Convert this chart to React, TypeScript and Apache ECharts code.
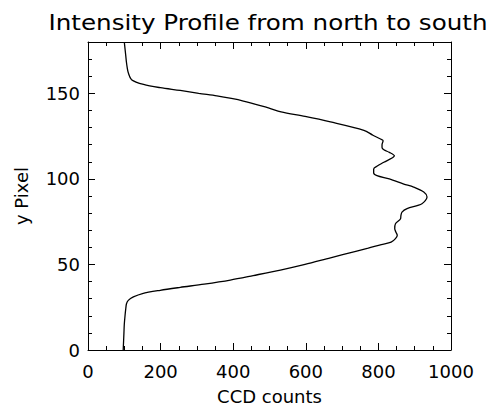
import React, { useEffect, useRef } from "react";
import * as echarts from "echarts";

const TITLE = "Intensity Profile from north to south";
const X_NAME = "CCD counts";
const Y_NAME = "y Pixel";

const yPixel = [0, 5, 10, 15, 20, 24, 27, 29, 31, 33, 34.9, 36.6, 38.5, 40.9, 43.5, 46.7, 50, 53.9, 57.5, 59.5, 61.6, 63, 65.1, 67, 69, 70.9, 73.8, 76.7, 78.5, 80.6, 82.6, 85.5, 89.4, 92.3, 95.2, 97, 100, 101.9, 103.5, 105.8, 107.5, 109.7, 113.5, 115.5, 117, 118.4, 120, 122.3, 123.3, 125.5, 128.4, 133.3, 136.5, 139.1, 141.5, 143.5, 145.5, 147, 148.5, 150, 151.7, 153.3, 155.2, 158, 162, 165, 168, 172, 176, 180];
const ccdCounts = [97, 98, 99, 100, 102, 104, 106, 111, 125, 150, 199, 254, 320, 392, 455, 530, 598, 668, 735, 772, 808, 835, 847, 852, 848, 845, 847, 861, 862, 865, 879, 920, 934, 925, 897, 870, 830, 796, 787, 787, 797, 815, 844, 830, 815, 810, 810, 813, 806, 785, 760, 668, 598, 532, 497, 462, 428, 395, 355, 305, 254, 199, 153, 120, 111, 108, 106, 104, 102, 100];

const FONT = "DejaVu Sans";

export default function App() {
  const ref = useRef<HTMLDivElement>(null);
  useEffect(() => {
    if (!ref.current) return;
    const chart = echarts.init(ref.current, null, { renderer: "svg" });
    const axisLine = { show: true, onZero: false, lineStyle: { color: "#000", width: 1 } };
    const xCommon = {
      type: "value" as const,
      min: 0,
      max: 1000,
      interval: 200,
      splitLine: { show: false },
      axisLine,
      axisTick: { show: true, inside: true, length: 7, lineStyle: { color: "#000" } },
      minorTick: { show: true, splitNumber: 4, length: 4, lineStyle: { color: "#000" } },
    };
    const yCommon = {
      type: "value" as const,
      min: 0,
      max: 180,
      interval: 50,
      splitLine: { show: false },
      axisLine,
      axisTick: { show: true, inside: true, length: 7, lineStyle: { color: "#000" } },
      minorTick: { show: true, splitNumber: 5, length: 4, lineStyle: { color: "#000" } },
    };
    chart.setOption({
      animation: false,
      backgroundColor: "#fff",
      graphic: [
        {
          type: "text",
          x: 268,
          y: 23,
          scaleX: 1.2,
          style: {
            text: TITLE,
            fontFamily: FONT,
            fontSize: 20.5,
            fill: "#000",
            align: "center",
            verticalAlign: "middle",
          },
        },
      ],
      grid: { left: 88, right: 42, top: 42, bottom: 58 },
      xAxis: [
        {
          ...xCommon,
          position: "bottom",
          name: X_NAME,
          nameLocation: "middle",
          nameGap: 37,
          nameTextStyle: { fontFamily: FONT, fontSize: 18, color: "#000" },
          axisLabel: {
            fontFamily: FONT,
            fontSize: 18,
            color: "#000",
            margin: 12,
            formatter: (v: number) => String(v),
          },
        },
        {
          ...xCommon,
          position: "top",
          axisLabel: { show: false },
        },
      ],
      yAxis: [
        {
          ...yCommon,
          position: "left",
          name: Y_NAME,
          nameLocation: "middle",
          nameGap: 58,
          nameTextStyle: { fontFamily: FONT, fontSize: 18, color: "#000" },
          axisLabel: {
            fontFamily: FONT,
            fontSize: 18,
            color: "#000",
            margin: 8,
            showMaxLabel: false,
            formatter: (v: number) => String(v),
          },
        },
        {
          ...yCommon,
          position: "right",
          axisLabel: { show: false },
        },
      ],
      series: [
        {
          type: "line",
          data: yPixel.map((p, i) => [ccdCounts[i], p]),
          showSymbol: false,
          smooth: 0.3,
          lineStyle: { color: "#000", width: 1.3 },
          xAxisIndex: 0,
          yAxisIndex: 0,
        },
      ],
    });
    return () => chart.dispose();
  }, []);
  return <div ref={ref} style={{ width: 493, height: 410, position: "absolute", left: 0, top: 0 }} />;
}
